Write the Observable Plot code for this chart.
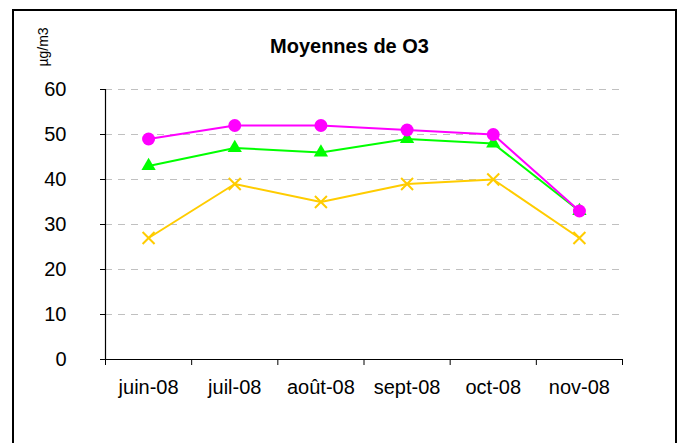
<!DOCTYPE html>
<html>
<head>
<meta charset="utf-8">
<script src="https://cdn.jsdelivr.net/npm/d3@7"></script>
<script src="https://cdn.jsdelivr.net/npm/@observablehq/plot@0.6"></script>
<style>
  html, body { margin: 0; padding: 0; overflow: hidden; background: #fff; }
  #wrap { position: relative; width: 683px; height: 443px; font-family: "Liberation Sans", Arial, sans-serif; }
  #border { position: absolute; left: 12px; top: 9px; width: 665px; height: 450px; border: 2px solid #000; box-sizing: border-box; }
  #title { position: absolute; left: 0; width: 699px; top: 34px; text-align: center; font-weight: bold; font-size: 20px; line-height: 24px; color: #000; }
  #unit { position: absolute; left: 43px; top: 47px; transform: translate(-50%, -50%) rotate(-90deg); font-size: 14px; line-height: 16px; white-space: nowrap; color: #000; }
  #chart { position: absolute; left: 0; top: 0; }
</style>
</head>
<body>
<div id="wrap">
  <div id="border"></div>
  <div id="chart"></div>
  <div id="title">Moyennes de O3</div>
  <div id="unit">µg/m3</div>
</div>
<script>
const months = ["juin-08", "juil-08", "août-08", "sept-08", "oct-08", "nov-08"];
const serieMagenta = [49, 52, 52, 51, 50, 33];
const serieVert = [43, 47, 46, 49, 48, 33];
const serieJaune = [27, 39, 35, 39, 40, 27];
const yTicks = [0, 10, 20, 30, 40, 50, 60];

const toRows = (vals) => vals.map((v, i) => ({x: i + 0.5, y: v, month: months[i]}));
const jaune = toRows(serieJaune);
const vert = toRows(serieVert);
const magenta = toRows(serieMagenta);

const cJaune = "#FFCC00", cVert = "#00FF00", cMagenta = "#FF00FF";

const plot = Plot.plot({
  width: 683,
  height: 443,
  marginLeft: 105,
  marginRight: 61,
  marginTop: 89,
  marginBottom: 84,
  style: {fontFamily: "'Liberation Sans', Arial, sans-serif", fontSize: "20px", color: "#000", background: "transparent"},
  x: {type: "linear", domain: [0, months.length]},
  y: {domain: [0, 60]},
  marks: [
    Plot.gridY(yTicks.filter(d => d > 0), {stroke: "#c0c0c0", strokeOpacity: 1, strokeDasharray: "7,6", strokeWidth: 1}),
    Plot.axisY({ticks: yTicks, tickSize: 5, tickPadding: 34, tickFormat: d => String(d), label: null, stroke: "#000", fontSize: 20}),
    Plot.axisX({ticks: d3.range(months.length + 1), tickSize: 6, tickFormat: () => "", label: null, stroke: "#000"}),
    Plot.axisX({ticks: months.map((m, i) => i + 0.5), tickSize: 0, tickPadding: 20, tickFormat: d => months[Math.round(d - 0.5)], label: null, fontSize: 20}),
    Plot.ruleX([0], {stroke: "#000", strokeWidth: 1.2}),
    Plot.ruleY([0], {stroke: "#000", strokeWidth: 1.2}),
    Plot.line(jaune, {x: "x", y: "y", stroke: cJaune, strokeWidth: 2}),
    Plot.dot(jaune, {x: "x", y: "y", symbol: "times", r: 5.5, stroke: cJaune, strokeWidth: 2}),
    Plot.line(vert, {x: "x", y: "y", stroke: cVert, strokeWidth: 2}),
    Plot.dot(vert, {x: "x", y: "y", symbol: "triangle", r: 5.3, fill: cVert, stroke: "none"}),
    Plot.line(magenta, {x: "x", y: "y", stroke: cMagenta, strokeWidth: 2}),
    Plot.dot(magenta, {x: "x", y: "y", symbol: "circle", r: 6.5, fill: cMagenta, stroke: "none"})
  ]
});
document.getElementById("chart").appendChild(plot);
</script>
</body>
</html>
